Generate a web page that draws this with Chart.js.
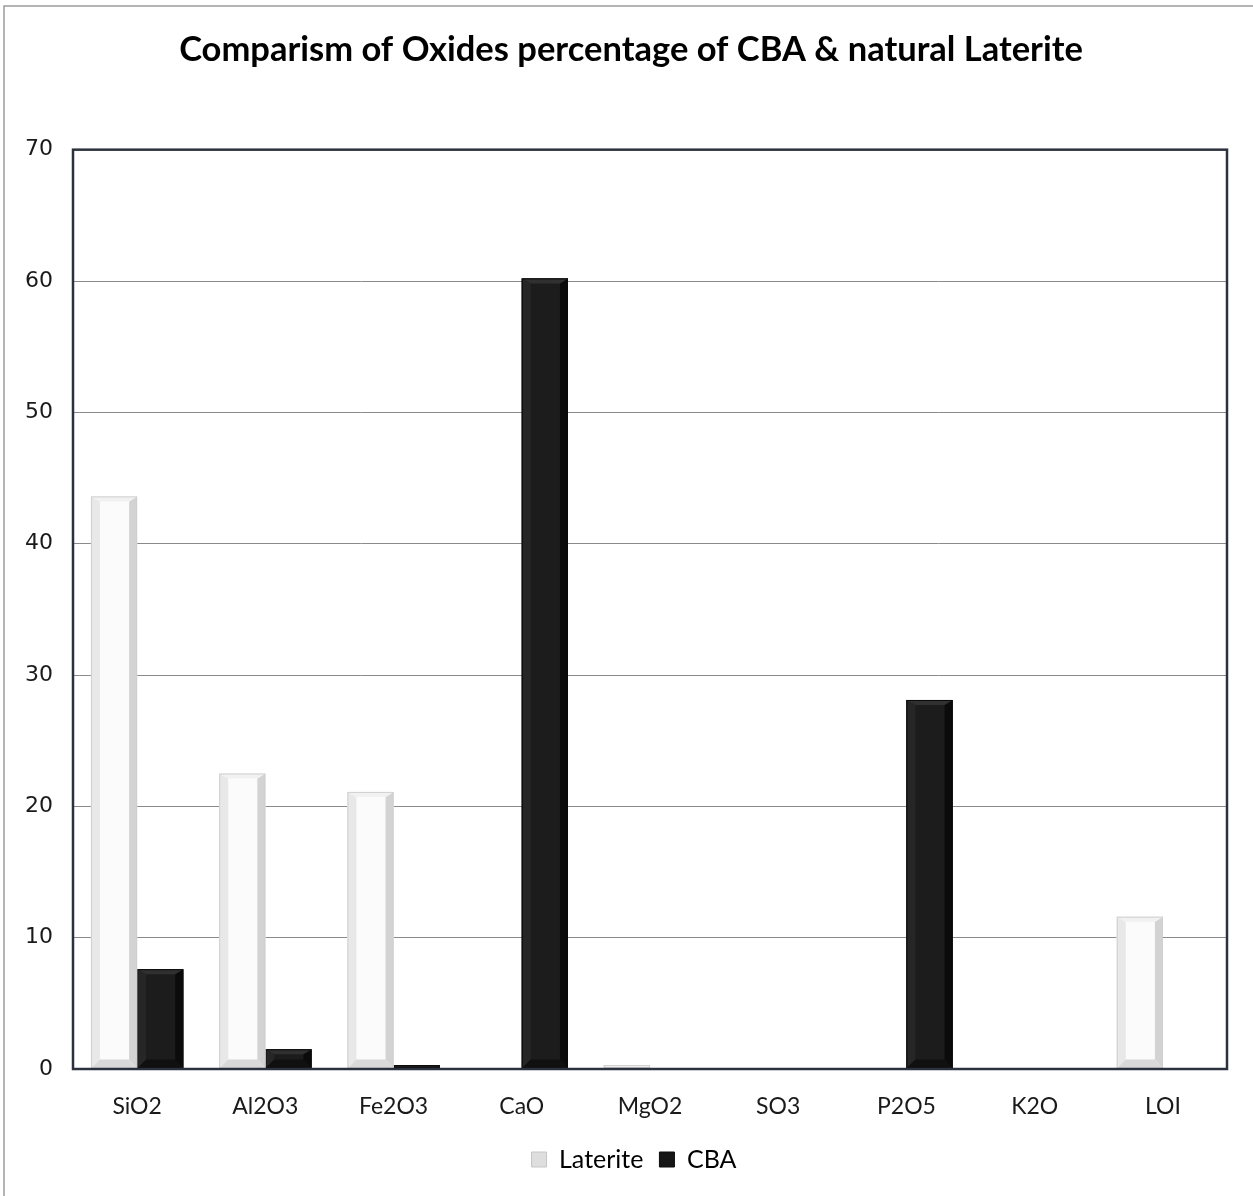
<!DOCTYPE html>
<html>
<head>
<meta charset="utf-8">
<script src="https://cdn.jsdelivr.net/npm/chart.js@4.4.1/dist/chart.umd.min.js"></script>
<style>
  html, body { margin: 0; padding: 0; background: #ffffff; }
  #wrap { width: 1253px; height: 1196px; position: relative; }
</style>
</head>
<body>
<div id="wrap"><canvas id="chart" width="1253" height="1196"></canvas></div>
<script>
// Oxide composition (%) of cow bone ash (CBA) and natural laterite
const categories = ['SiO2', 'Al2O3', 'Fe2O3', 'CaO', 'MgO2', 'SO3', 'P2O5', 'K2O', 'LOI'];
const laterite = [43.6, 22.5, 21.1, 0, 0.3, 0, 0, 0, 11.6];
const cba = [7.6, 1.5, 0.3, 60.2, 0, 0, 28.1, 0, 0];
const yTicks = [0, 10, 20, 30, 40, 50, 60, 70];

// Bevelled bar faces, drawn over the library's bars
const bevelStyles = [
  { face: '#fbfbfb', left: '#e8e8e8', right: '#d3d3d3', top: '#f1f1f1', bottom: '#d9d9d9', edge: '#cfcfcf' },
  { face: '#1c1c1c', left: '#262626', right: '#0b0b0b', top: '#303030', bottom: '#101010', edge: '#0a0a0a' }
];

const bevelPlugin = {
  id: 'bevel',
  afterDatasetDraw(chart, args) {
    const ctx = chart.ctx;
    const st = bevelStyles[args.index];
    const meta = args.meta;
    ctx.save();
    meta.data.forEach(bar => {
      const p = bar.getProps(['x', 'y', 'base', 'width'], true);
      const h = p.base - p.y;
      if (h < 0.5) return;
      const l = p.x - p.width / 2, r = p.x + p.width / 2, t = p.y, b = p.base;
      const sx = Math.min(9, p.width / 5, h / 2);
      const st_ = Math.min(5, h / 3);
      const sb = Math.min(9, h / 2);
      const il = l + sx, ir = r - sx + 1, it = t + st_, ib = b - sb;
      const poly = (pts, c) => {
        ctx.beginPath();
        ctx.moveTo(pts[0][0], pts[0][1]);
        for (let i = 1; i < pts.length; i++) ctx.lineTo(pts[i][0], pts[i][1]);
        ctx.closePath();
        ctx.fillStyle = c;
        ctx.fill();
      };
      poly([[l, t], [r, t], [r, b], [l, b]], st.face);
      poly([[l, t], [il, it], [il, ib], [l, b]], st.left);
      poly([[r, t], [r, b], [ir, ib], [ir, it]], st.right);
      poly([[l, t], [r, t], [ir, it], [il, it]], st.top);
      poly([[l, b], [il, ib], [ir, ib], [r, b]], st.bottom);
      ctx.strokeStyle = st.edge;
      ctx.lineWidth = 1;
      ctx.strokeRect(l + 0.5, t + 0.5, r - l - 1, b - t - 1);
    });
    ctx.restore();
  }
};

// White page, outer frame and plot-area border
const framePlugin = {
  id: 'frame',
  afterLayout(chart) {
    // nudge the title and legend blocks so they sit slightly left of the plot centre
    chart.titleBlock.left = chart.chartArea.left - 38;
    chart.legend.left = chart.chartArea.left - 32;
  },
  beforeDraw(chart) {
    const ctx = chart.ctx;
    ctx.save();
    ctx.fillStyle = '#ffffff';
    ctx.fillRect(0, 0, chart.width, chart.height);
    ctx.strokeStyle = '#9c9c9c';
    ctx.lineWidth = 1.5;
    ctx.beginPath();
    ctx.moveTo(4, chart.height);
    ctx.lineTo(4, 6);
    ctx.lineTo(chart.width, 6);
    ctx.stroke();
    ctx.restore();
  },
  afterDatasetsDraw(chart) {
    const a = chart.chartArea;
    const ctx = chart.ctx;
    ctx.save();
    ctx.strokeStyle = '#2b323d';
    ctx.lineWidth = 2.5;
    ctx.strokeRect(a.left, a.top, a.right - a.left, a.bottom - a.top);
    ctx.restore();
  }
};

new Chart(document.getElementById('chart'), {
  type: 'bar',
  data: {
    labels: categories,
    datasets: [
      { label: 'Laterite', data: laterite, backgroundColor: '#f6f6f6', borderWidth: 0 },
      { label: 'CBA', data: cba, backgroundColor: '#1a1a1a', borderWidth: 0 }
    ]
  },
  options: {
    responsive: false,
    animation: false,
    devicePixelRatio: 1,
    categoryPercentage: 0.72,
    barPercentage: 1.0,
    layout: { padding: { left: 0, right: 26, top: 30, bottom: 14 } },
    plugins: {
      title: {
        display: true,
        fullSize: false,
        text: 'Comparism of Oxides percentage of CBA & natural Laterite',
        color: '#000000',
        font: { family: 'Lato', size: 34.5, weight: 'bold', lineHeight: 1.15 },
        padding: { top: 0, bottom: 80 }
      },
      legend: {
        display: true,
        fullSize: false,
        position: 'bottom',
        labels: {
          color: '#1a1a1a',
          font: { family: 'Lato', size: 25 },
          boxWidth: 15,
          boxHeight: 15,
          padding: 16,
          generateLabels(chart) {
            return chart.data.datasets.map((ds, i) => ({
              text: ds.label,
              fillStyle: i === 0 ? '#dedede' : '#161616',
              strokeStyle: i === 0 ? '#c6c6c6' : '#0c0c0c',
              lineWidth: 1,
              datasetIndex: i,
              hidden: false
            }));
          }
        }
      },
      tooltip: { enabled: false }
    },
    scales: {
      x: {
        grid: { display: false, drawTicks: false },
        border: { display: false },
        ticks: { color: '#1a1a1a', font: { family: 'Lato', size: 23 }, padding: 24 },
        afterFit(scale) { scale.height = 62; }
      },
      y: {
        min: 0,
        max: 70,
        afterBuildTicks(scale) { scale.ticks = yTicks.map(v => ({ value: v })); },
        grid: { color: '#8a8a8a', lineWidth: 1, drawTicks: false },
        border: { display: false },
        ticks: { color: '#1a1a1a', font: { family: 'DejaVu Sans', size: 22 }, padding: 20 },
        afterFit(scale) { scale.width = 73; }
      }
    }
  },
  plugins: [framePlugin, bevelPlugin]
});
</script>
</body>
</html>
